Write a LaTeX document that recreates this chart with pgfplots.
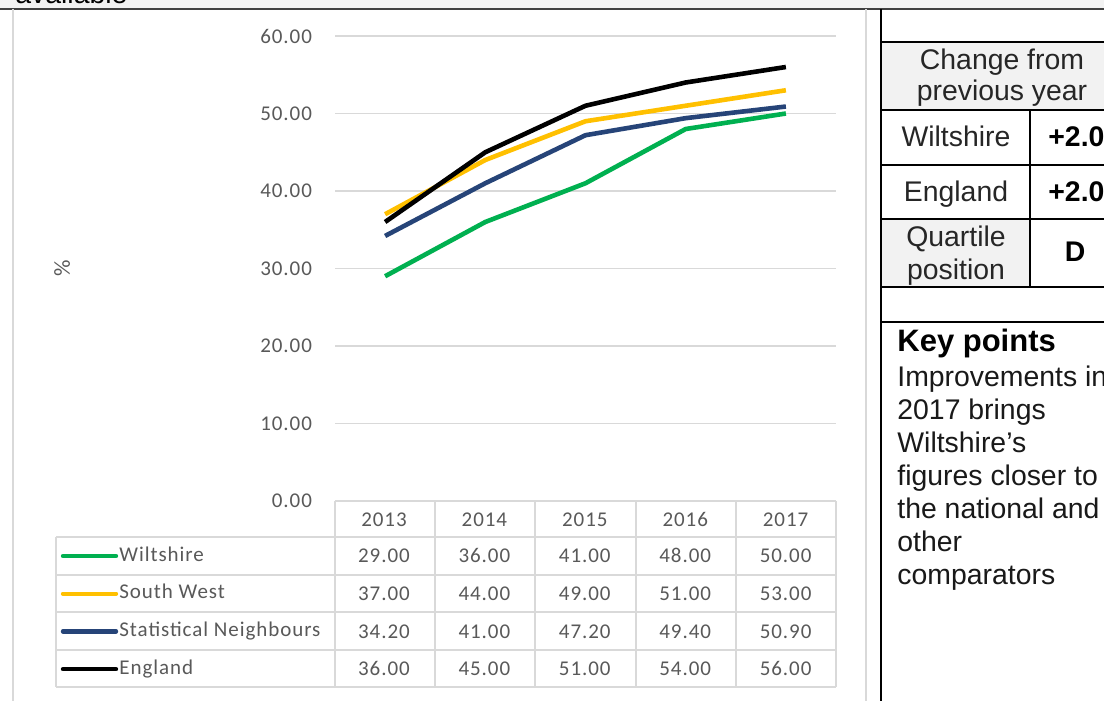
\documentclass[border=0pt]{standalone}
\usepackage{pgfplots}
\pgfplotsset{compat=1.18}
\usepackage{fontspec}
\setmainfont{Liberation Sans}
\newfontfamily\calfont[LetterSpace=4.5]{Carlito}

\definecolor{wgreen}{HTML}{00B050}
\definecolor{swyellow}{HTML}{FFC000}
\definecolor{snblue}{HTML}{264478}
\definecolor{gridgray}{HTML}{D9D9D9}
\definecolor{txtgray}{HTML}{595959}
\definecolor{cellgray}{HTML}{F2F2F2}

\newcommand\tfont{\calfont\fontsize{10.5}{12}\selectfont}
\newcommand\pfont{\fontsize{14.2}{15}\selectfont}

\begin{document}
\begin{tikzpicture}[x=0.5pt,y=-0.5pt]
\clip (0,0) rectangle (1104,701);
\fill[white] (0,0) rectangle (1104,701);
% strip at the top (cut off)
\fill[cellgray] (0,0) rectangle (1104,9);
\node[anchor=base west, inner sep=0pt, font=\pfont] at (15,4) {available};
\draw[line width=0.8pt, black!75] (0,9) -- (1104,9);

% chart frame
\draw[gridgray, line width=0.6pt] (13,9) -- (13,701);
\draw[gridgray, line width=0.6pt] (866,9) -- (866,701);

\begin{axis}[
    at={(167.5pt,-250.5pt)}, anchor=south west,
    scale only axis, width=250.5pt, height=232.5pt,
    xmin=-0.5, xmax=4.5, ymin=0, ymax=60,
    ytick={0,10,...,60}, xtick=\empty,
    ymajorgrids, grid style={gridgray, line width=0.6pt},
    axis line style={draw=none}, major tick length=0pt,
    yticklabel style={font=\tfont, text=txtgray, xshift=-8pt},
    /pgf/number format/.cd, fixed, fixed zerofill, precision=2, assume math mode=true,
]
\addplot[wgreen, line width=2.3pt, line join=round] coordinates {(0,29) (1,36) (2,41) (3,48) (4,50)};
\addplot[swyellow, line width=2.3pt, line join=round] coordinates {(0,37) (1,44) (2,49) (3,51) (4,53)};
\addplot[snblue, line width=2.3pt, line join=round] coordinates {(0,34.2) (1,41) (2,47.2) (3,49.4) (4,50.9)};
\addplot[black, line width=2.3pt, line join=round] coordinates {(0,36) (1,45) (2,51) (3,54) (4,56)};
\end{axis}

\node[rotate=90, font=\calfont\fontsize{11.5}{12}\selectfont, text=txtgray] at (62,268) {\%};

% data table
\foreach \yy in {537,575,612,650,687} \draw[gridgray, line width=0.6pt] (56,\yy) -- (836,\yy);
\draw[gridgray, line width=0.6pt] (56,537) -- (56,687);
\foreach \xx in {335,435,535,636,736,836} \draw[gridgray, line width=0.6pt] (\xx,501) -- (\xx,687);
\tikzset{cell/.style={anchor=base, inner sep=0pt, font=\tfont, text=txtgray}}
\foreach \yr [count=\i from 0] in {2013,2014,2015,2016,2017}
  \node[cell] at (384+100.4*\i,526) {\yr};
\foreach \nm/\col [count=\r from 0] in {Wiltshire/wgreen,South West/swyellow,Statistical Neighbours/snblue,England/black}{
  \draw[\col, line width=2.2pt, line cap=round] (63,556+37.7*\r) -- (116,556+37.7*\r);
  \node[cell, anchor=base west] at (119,561+37.7*\r) {\nm};
}
\foreach \v [count=\i from 0] in {29.00,36.00,41.00,48.00,50.00}
  \node[cell] at (384+100.4*\i,562) {\v};
\foreach \v [count=\i from 0] in {37.00,44.00,49.00,51.00,53.00}
  \node[cell] at (384+100.4*\i,600) {\v};
\foreach \v [count=\i from 0] in {34.20,41.00,47.20,49.40,50.90}
  \node[cell] at (384+100.4*\i,638) {\v};
\foreach \v [count=\i from 0] in {36.00,45.00,51.00,54.00,56.00}
  \node[cell] at (384+100.4*\i,675) {\v};

% right panel
\fill[cellgray] (881,42) rectangle (1104,110);
\fill[cellgray] (881,219) rectangle (1030,287);
\draw[line width=0.8pt] (881,9) -- (881,701);
\foreach \yy in {42,110,165,219,287,322} \draw[line width=0.8pt] (881,\yy) -- (1104,\yy);
\draw[line width=0.8pt] (1030,110) -- (1030,287);
\node[anchor=base, inner sep=0pt, font=\pfont, text=black!85] at (1002,70) {Change from};
\node[anchor=base, inner sep=0pt, font=\pfont, text=black!85] at (1002,101) {previous year};
\node[anchor=base, inner sep=0pt, font=\pfont, text=black!85] at (956,147) {Wiltshire};
\node[anchor=base west, inner sep=0pt, font=\pfont\bfseries] at (1048,147) {+2.0};
\node[anchor=base, inner sep=0pt, font=\pfont, text=black!85] at (956,202) {England};
\node[anchor=base west, inner sep=0pt, font=\pfont\bfseries] at (1048,202) {+2.0};
\node[anchor=base, inner sep=0pt, font=\pfont, text=black!85] at (956,247) {Quartile};
\node[anchor=base, inner sep=0pt, font=\pfont, text=black!85] at (956,279) {position};
\node[anchor=base, inner sep=0pt, font=\pfont\bfseries] at (1075,262) {D};
\node[anchor=base west, inner sep=0pt, font=\fontsize{15.5}{16}\selectfont\bfseries] at (897,351) {Key points};
\foreach \ln [count=\k from 0] in {Improvements in,2017 brings,Wiltshire’s,figures closer to,the national and,other,comparators}
  \node[anchor=base west, inner sep=0pt, font=\pfont, text=black!90] at (897,386+33.1*\k) {\ln};
\end{tikzpicture}
\end{document}
